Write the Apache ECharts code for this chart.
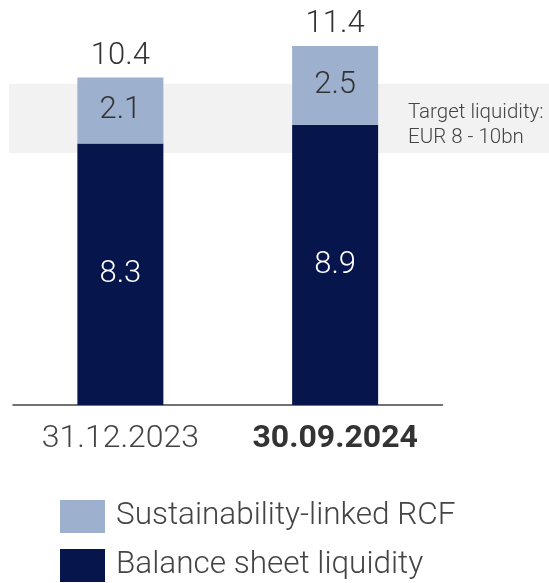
<!DOCTYPE html>
<html>
<head>
<meta charset="utf-8">
<style>html,body{margin:0;padding:0;background:#fff;}#c{width:549px;height:583px;}</style>
<script src="https://cdn.jsdelivr.net/npm/echarts@6/dist/echarts.min.js"></script>
</head>
<body>
<div id="c"></div>
<script>
var categories = ['31.12.2023', '30.09.2024'];
var balanceSheet = [8.3, 8.9];
var rcf = [2.1, 2.5];
var totals = [10.4, 11.4];
var targetBand = [8, 10.2];
var seriesNames = ['Sustainability-linked RCF', 'Balance sheet liquidity'];

var FONT = 'Roboto';
var chart = echarts.init(document.getElementById('c'));
chart.setOption({
  animation: false,
  title: {
    text: 'Target liquidity:\nEUR 8 - 10bn',
    left: 408, top: 100, padding: 0,
    textStyle: {fontFamily: FONT, fontWeight: 300, fontSize: 20.5, lineHeight: 25, color: '#444'}
  },
  legend: {
    orient: 'vertical', left: 60, top: 500, padding: 0,
    itemWidth: 45, itemHeight: 33, itemGap: 16,
    data: seriesNames,
    icon: 'rect',
    textStyle: {fontFamily: FONT, fontWeight: 300, fontSize: 31.5, color: '#444', padding: [0, 0, 0, 6]}
  },
  grid: [
    {left: 13, right: 106.5, top: 27, bottom: 178},
    {left: 9, right: 0, top: 27, bottom: 178}
  ],
  xAxis: [
    {
      type: 'category', gridIndex: 0,
      data: [{value: categories[0]}, {value: categories[1], textStyle: {fontWeight: 'bold', color: '#333'}}],
      axisTick: {show: false},
      axisLine: {lineStyle: {color: '#444', width: 1.5}},
      axisLabel: {fontFamily: FONT, fontWeight: 300, fontSize: 32, color: '#444', margin: 18}
    },
    {type: 'value', gridIndex: 1, show: false, min: 0, max: 1}
  ],
  yAxis: [
    {type: 'value', gridIndex: 0, min: 0, max: 12, show: false, splitLine: {show: false}},
    {type: 'value', gridIndex: 1, min: 0, max: 12, show: false, splitLine: {show: false}}
  ],
  series: [
    {
      type: 'line', xAxisIndex: 1, yAxisIndex: 1, data: [], z: 0, silent: true,
      markArea: {
        silent: true,
        itemStyle: {color: '#f2f2f2'},
        data: [[{yAxis: targetBand[0]}, {yAxis: targetBand[1]}]]
      }
    },
    {
      name: seriesNames[1], type: 'bar', stack: 'liq', data: balanceSheet, barWidth: 86, z: 3,
      itemStyle: {color: '#06164d'},
      label: {show: true, position: 'inside', color: '#fff', fontFamily: FONT, fontWeight: 300, fontSize: 31}
    },
    {
      name: seriesNames[0], type: 'bar', stack: 'liq', data: rcf, barWidth: 86, z: 3,
      itemStyle: {color: '#9db0ce'},
      label: {show: true, position: 'inside', color: '#333', fontFamily: FONT, fontWeight: 300, fontSize: 31}
    },
    {
      name: 'total', type: 'bar', stack: 'liq', data: [0, 0], barWidth: 86, z: 3,
      itemStyle: {color: 'transparent'},
      label: {
        show: true, position: 'top', distance: 6, color: '#333', fontFamily: FONT, fontWeight: 300, fontSize: 31,
        formatter: function (p) { return totals[p.dataIndex].toFixed(1); }
      }
    }
  ]
});
</script>
</body>
</html>
